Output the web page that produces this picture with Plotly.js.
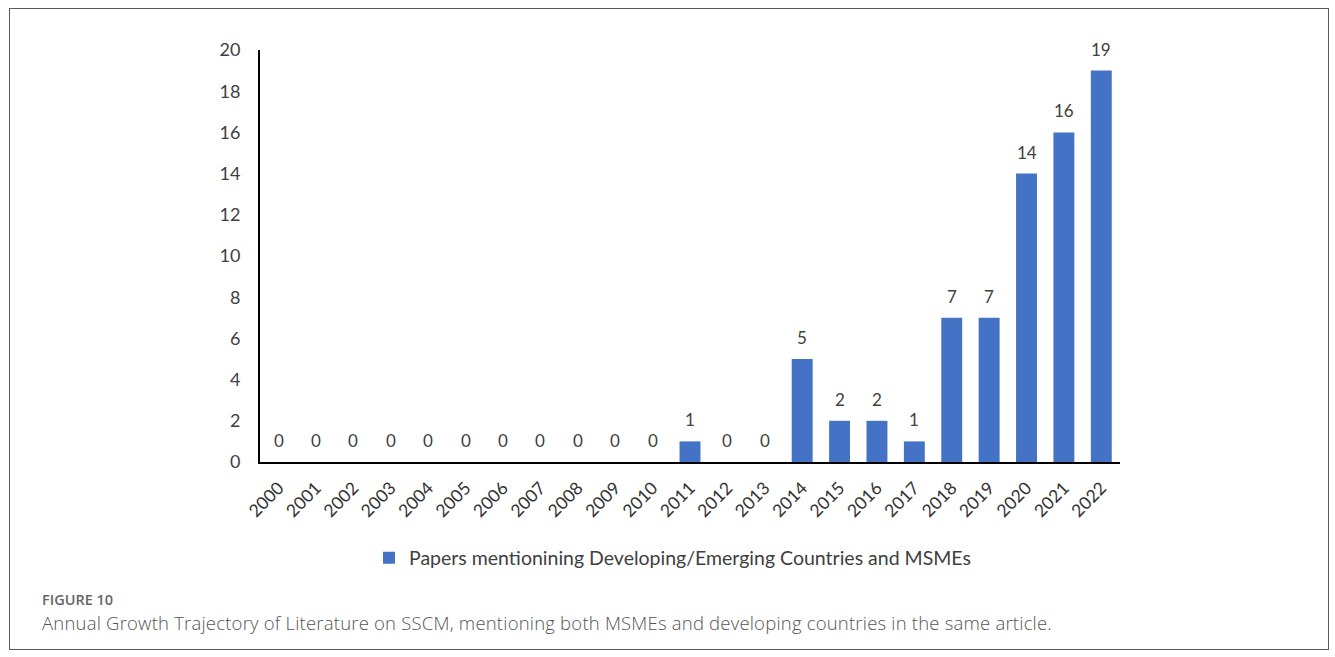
<!DOCTYPE html>
<html>
<head>
<meta charset="utf-8">
<script src="https://cdn.plot.ly/plotly-3.0.1.min.js"></script>
<style>
  html, body { margin: 0; padding: 0; background: #ffffff; }
  #wrap { position: relative; width: 1335px; height: 657px; overflow: hidden; }
  #chart { position: absolute; left: 0; top: 0; width: 1335px; height: 657px; }
  #frame { position: absolute; left: 9px; top: 8px; width: 1318px; height: 640px;
           border: 1.5px solid #5a5a5a; pointer-events: none; }
  #figlabel { position: absolute; left: 42px; top: 590px; font-family: "Open Sans", sans-serif;
              font-weight: 600; font-size: 14.5px; line-height: normal; color: #666666; }
  #caption { position: absolute; left: 42px; top: 610px; font-family: "Open Sans", sans-serif;
             font-weight: 300; font-size: 18.5px; letter-spacing: 0.2px; line-height: normal;
             color: #555555; white-space: nowrap; }
</style>
</head>
<body>
<div id="wrap">
  <div id="chart"></div>
  <div id="frame"></div>
  <div id="figlabel">FIGURE 10</div>
  <div id="caption">Annual Growth Trajectory of Literature on SSCM, mentioning both MSMEs and developing countries in the same article.</div>
</div>
<script>
// Publication years on the category axis
const years = ["2000","2001","2002","2003","2004","2005","2006","2007","2008","2009","2010",
               "2011","2012","2013","2014","2015","2016","2017","2018","2019","2020","2021","2022"];
// Number of papers per year
const papers = [0,0,0,0,0,0,0,0,0,0,0,1,0,0,5,2,2,1,7,7,14,16,19];
const seriesName = "Papers mentionining Developing/Emerging Countries and MSMEs";
const yTicks = [0,2,4,6,8,10,12,14,16,18,20];

const labelFont = "Lato, 'Open Sans', sans-serif";

const trace = {
  type: "bar",
  x: years,
  y: papers,
  name: seriesName,
  marker: { color: "#4472C4", line: { width: 0 } },
  showlegend: true,
  hoverinfo: "x+y"
};

// Value labels above each bar (including the zero years);
// on a category axis annotations are placed by category index.
const valueLabels = years.map((yr, i) => ({
  x: i,
  y: papers[i],
  xref: "x",
  yref: "y",
  text: String(papers[i]),
  showarrow: false,
  yanchor: "bottom",
  yshift: 9,
  font: { family: labelFont, size: 17, color: "#404040" }
}));

const layout = {
  width: 1335,
  height: 657,
  margin: { l: 260, r: 215, t: 50, b: 195 },
  paper_bgcolor: "rgba(0,0,0,0)",
  plot_bgcolor: "rgba(0,0,0,0)",
  bargap: 0.44,
  font: { family: labelFont, color: "#404040" },
  xaxis: {
    type: "category",
    range: [-0.5, years.length - 0.5],
    tickangle: -45,
    showline: true,
    linecolor: "#000000",
    linewidth: 2,
    ticks: "",
    showgrid: false,
    zeroline: false,
    tickfont: { family: labelFont, size: 17.5, color: "#333333" },
    ticklabelstandoff: 7
  },
  yaxis: {
    range: [0, 20],
    tickvals: yTicks,
    ticktext: yTicks.map(String),
    showline: true,
    linecolor: "#000000",
    linewidth: 2,
    ticks: "",
    showgrid: false,
    zeroline: false,
    tickfont: { family: labelFont, size: 18, color: "#404040" },
    ticklabelstandoff: 14
  },
  showlegend: true,
  legend: {
    orientation: "h",
    x: (369 - 260) / 860,
    xanchor: "left",
    y: -0.233,
    yanchor: "middle",
    font: { family: labelFont, size: 19.5, color: "#404040" },
    itemwidth: 30,
    bgcolor: "rgba(0,0,0,0)"
  },
  annotations: valueLabels
};

Plotly.newPlot("chart", [trace], layout, { displayModeBar: false, staticPlot: true });
</script>
</body>
</html>
